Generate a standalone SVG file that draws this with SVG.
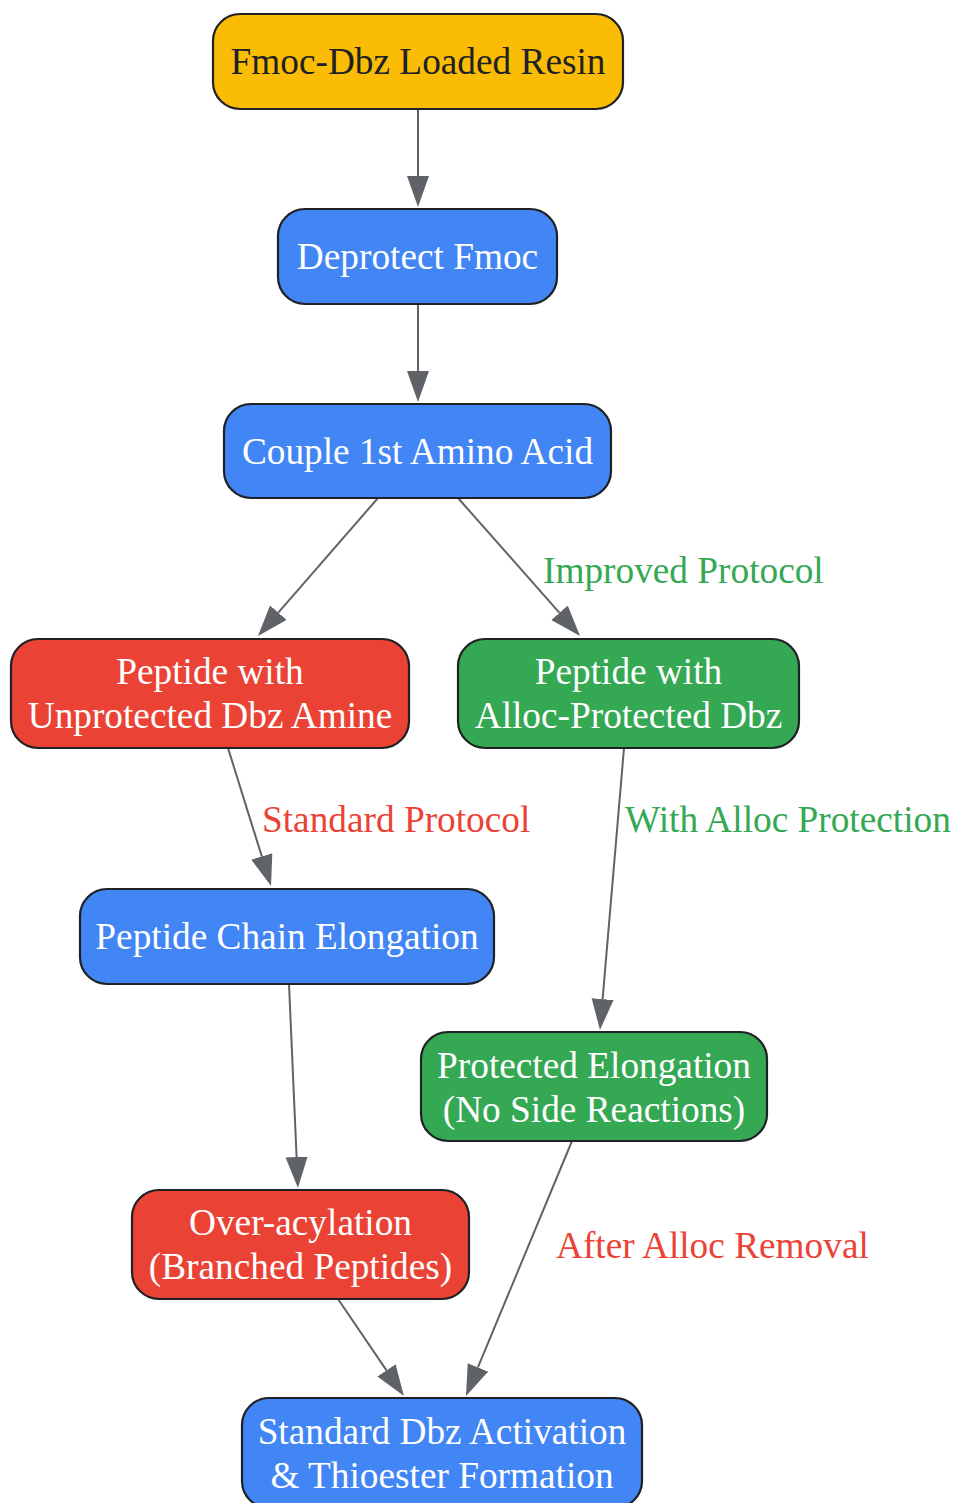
<svg xmlns="http://www.w3.org/2000/svg" width="954" height="1503" viewBox="0 0 954 1503">
<style>
.n rect{stroke:#202124;stroke-width:2.2}
.t{font-family:"Liberation Serif","Times New Roman",serif;font-size:37.3px;text-anchor:middle;fill:#ffffff}
.lbl{font-family:"Liberation Serif","Times New Roman",serif;font-size:37.3px}
.e{fill:none;stroke:#5F6368;stroke-width:2;marker-end:url(#ah)}
.blue{fill:#4285F4}.red{fill:#EA4335}.green{fill:#34A853}.yellow{fill:#FBBC05}
</style>
<defs>
<marker id="ah" markerUnits="userSpaceOnUse" markerWidth="32" markerHeight="24" refX="0" refY="11" orient="auto">
<path d="M0,0 L31,11 L0,22 Z" fill="#5F6368"/>
</marker>
</defs>
<rect width="954" height="1503" fill="#ffffff"/>
<g id="connectors">
<path class="e" d="M418,109 L418,176"/>
<path class="e" d="M418,304 L418,371"/>
<path class="e" d="M378,498 L278.3,612.6"/>
<path class="e" d="M458,498 L559.5,612.8"/>
<path class="e" d="M228,748 L261.8,856.4"/>
<path class="e" d="M624,748 L602.6,999.1"/>
<path class="e" d="M289,984 L296.6,1157"/>
<path class="e" d="M338,1299 L386.5,1370.4"/>
<path class="e" d="M572,1141 L477.9,1367.4"/>
<text class="lbl" x="543" y="583" fill="#34A853">Improved Protocol</text>
<text class="lbl" x="262" y="832" fill="#EA4335">Standard Protocol</text>
<text class="lbl" x="625" y="832" fill="#34A853">With Alloc Protection</text>
<text class="lbl" x="556" y="1258" fill="#EA4335">After Alloc Removal</text>
</g>
<g id="n1" class="n"><rect class="yellow" x="213" y="14" width="410" height="95" rx="27"/><text class="t" x="418" y="74" style="fill:#202124">Fmoc-Dbz Loaded Resin</text></g>
<g id="n2" class="n"><rect class="blue" x="278" y="209" width="279" height="95" rx="27"/><text class="t" x="417.5" y="269">Deprotect Fmoc</text></g>
<g id="n3" class="n"><rect class="blue" x="224" y="404" width="387" height="94" rx="27"/><text class="t" x="417.5" y="464">Couple 1st Amino Acid</text></g>
<g id="n4" class="n"><rect class="red" x="11" y="639" width="398" height="109" rx="27"/><text class="t" x="210" y="684">Peptide with</text><text class="t" x="210" y="728">Unprotected Dbz Amine</text></g>
<g id="n5" class="n"><rect class="green" x="458" y="639" width="341" height="109" rx="27"/><text class="t" x="628.5" y="684">Peptide with</text><text class="t" x="628.5" y="728">Alloc-Protected Dbz</text></g>
<g id="n6" class="n"><rect class="blue" x="80" y="889" width="414" height="95" rx="27"/><text class="t" x="287" y="949">Peptide Chain Elongation</text></g>
<g id="n7" class="n"><rect class="green" x="421" y="1032" width="346" height="109" rx="27"/><text class="t" x="594" y="1078">Protected Elongation</text><text class="t" x="594" y="1122">(No Side Reactions)</text></g>
<g id="n8" class="n"><rect class="red" x="132" y="1190" width="337" height="109" rx="27"/><text class="t" x="300.5" y="1235">Over-acylation</text><text class="t" x="300.5" y="1279">(Branched Peptides)</text></g>
<g id="n9" class="n"><rect class="blue" x="242" y="1398" width="400" height="110" rx="27"/><text class="t" x="442" y="1444">Standard Dbz Activation</text><text class="t" x="442" y="1488">&amp; Thioester Formation</text></g>
</svg>
